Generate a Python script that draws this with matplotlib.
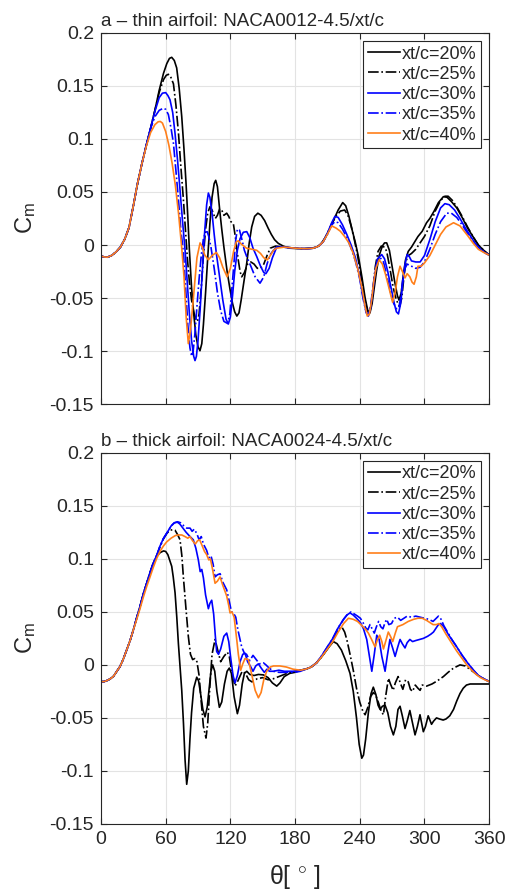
import matplotlib
matplotlib.use("Agg")
import matplotlib.pyplot as plt

plt.rcParams['font.family'] = ['Liberation Sans', 'DejaVu Sans']
plt.rcParams['mathtext.fontset'] = 'custom'
plt.rcParams['mathtext.rm'] = 'Liberation Sans'
plt.rcParams['mathtext.it'] = 'Liberation Sans:italic'

# ---------------- data ----------------
labels = ['xt/c=20%', 'xt/c=25%', 'xt/c=30%', 'xt/c=35%', 'xt/c=40%']
colors = ['#000000', '#000000', '#0000ff', '#0000ff', '#ff7f1a']
styles = ['-', '-.', '-', '-.', '-']
titles = ['a \u2013 thin airfoil: NACA0012-4.5/xt/c',
          'b \u2013 thick airfoil: NACA0024-4.5/xt/c']
xticks = [0, 60, 120, 180, 240, 300, 360]
yticks = [-0.15, -0.1, -0.05, 0, 0.05, 0.1, 0.15, 0.2]
yticklabels = ['-0.15', '-0.1', '-0.05', '0', '0.05', '0.1', '0.15', '0.2']

# panel a, common rising branch
rise_a_t = [0, 3, 6, 10, 14, 18, 22, 26, 30, 34, 38]
rise_a_c = [-0.0104, -0.0113, -0.0115, -0.0098, -0.0065, -0.0020, 0.0055, 0.0165, 0.037, 0.0585, 0.077]

a20_t = [42, 46, 50, 54, 58, 61, 63.5, 65.6, 68, 70.2, 72.5, 74.9, 77, 78.9, 80.5, 82, 84, 86, 88, 90,
         91.8, 93.5, 95, 97, 99, 101, 103, 105, 106.4, 108, 110.4, 112, 114, 117, 119.7, 122, 124, 126, 128, 130,
         132.5, 135.2, 137.5, 139.8, 142.5, 145.5, 148.5, 151.8, 155, 158, 161, 164.5, 169, 175, 185, 195, 200, 204, 208, 212,
         216, 220, 224.2, 227, 230, 233, 236, 239, 242, 245, 247.5, 249.5, 251.5, 253.5, 255.5, 258, 261, 263, 265, 267.5,
         270, 272.5, 275, 276.5, 278.5, 280.5, 282.5, 285, 288, 291, 294, 298, 302, 305, 309, 313, 317.6, 321, 325, 330,
         335, 340, 345, 350, 355, 360]
a20_c = [0.094, 0.110, 0.127, 0.146, 0.162, 0.171, 0.176, 0.177, 0.174, 0.167, 0.148, 0.121, 0.090, 0.058, 0.027, -0.005, -0.040, -0.065, -0.085, -0.096,
         -0.0997, -0.093, -0.075, -0.045, -0.012, 0.020, 0.045, 0.058, 0.061, 0.055, 0.030, 0.015, -0.002, -0.025, -0.042, -0.055, -0.063, -0.067, -0.064, -0.052,
         -0.035, -0.017, 0.002, 0.017, 0.027, 0.030, 0.028, 0.023, 0.016, 0.010, 0.005, 0.0015, -0.001, -0.003, -0.0035, -0.003, -0.002, 0.001, 0.007, 0.015,
         0.024, 0.033, 0.040, 0.037, 0.027, 0.014, 0.002, -0.012, -0.030, -0.050, -0.062, -0.064, -0.055, -0.040, -0.025, -0.010, -0.001, 0.002, 0.002, -0.005,
         -0.020, -0.035, -0.048, -0.052, -0.045, -0.028, -0.014, -0.006, -0.002, 0.003, 0.008, 0.013, 0.021, 0.025, 0.032, 0.040, 0.0456, 0.045, 0.041, 0.035,
         0.026, 0.016, 0.008, 0.0, -0.005, -0.0095]

a25_t = [42, 46, 50, 54, 58, 60.5, 62.5, 64.5, 67.2, 69.5, 71.9, 74, 76.5, 78.5, 80, 82, 84, 86, 88, 89.5,
         91, 93, 95, 97, 99, 101, 103, 106, 108, 110, 112, 114, 116.6, 118.5, 120.5, 122.8, 125, 127, 129, 130.5,
         133, 136, 139, 142, 145, 148, 151, 154, 157, 162, 170, 180, 190, 197, 202, 206, 210, 214, 218, 222,
         226, 229, 232, 235, 238, 241, 244, 246.5, 248.5, 250.5, 252.5, 254.5, 257, 260, 263, 265, 268, 271, 274, 277,
         279, 281, 283, 285, 288, 292, 296, 300, 305, 310, 315, 319, 322, 326, 330, 335, 340, 345, 350, 355,
         360]
a25_c = [0.094, 0.110, 0.127, 0.144, 0.156, 0.160, 0.161, 0.159, 0.152, 0.132, 0.105, 0.075, 0.042, 0.012, -0.011, -0.035, -0.052, -0.063, -0.070, -0.072,
         -0.065, -0.040, -0.010, 0.015, 0.030, 0.036, 0.033, 0.025, 0.028, 0.034, 0.033, 0.028, 0.030, 0.027, 0.022, 0.020, 0.005, -0.012, -0.025, -0.030,
         -0.026, -0.018, -0.016, -0.018, -0.022, -0.022, -0.018, -0.010, -0.003, -0.001, -0.002, -0.003, -0.0035, -0.003, -0.001, 0.003, 0.011, 0.020, 0.027, 0.032,
         0.033, 0.028, 0.018, 0.005, -0.010, -0.028, -0.048, -0.060, -0.065, -0.058, -0.040, -0.020, -0.006, -0.001, -0.002, -0.006, -0.022, -0.040, -0.052, -0.058,
         -0.050, -0.030, -0.015, -0.010, -0.008, -0.004, 0.002, 0.008, 0.018, 0.032, 0.042, 0.046, 0.046, 0.042, 0.036, 0.027, 0.017, 0.008, 0.0, -0.005,
         -0.0095]

a30_t = [42, 46, 50, 54, 57, 60, 62, 64, 66.5, 68.7, 71, 73.3, 75.5, 78, 80, 82, 84, 86, 87.2, 88.5,
         90, 92, 94, 96, 98, 99.6, 101, 103, 105, 107, 110, 113, 116, 118.1, 120, 122, 124, 126.5, 129, 132,
         135.2, 138, 141, 144.5, 148, 151, 153, 156, 159, 163, 170, 180, 190, 197, 202, 206, 210, 214, 217, 220,
         224, 228, 232, 236, 240, 243, 246, 248, 250, 252, 254, 256.5, 260.4, 263, 266, 269, 272, 274, 275.9, 278,
         280, 282, 284, 286, 288, 292, 296, 300, 305, 310, 315, 319, 323, 328, 333, 338, 343, 348, 353, 357,
         360]
a30_c = [0.094, 0.110, 0.126, 0.139, 0.1432, 0.1437, 0.141, 0.137, 0.125, 0.105, 0.080, 0.052, 0.024, -0.005, -0.035, -0.065, -0.090, -0.105, -0.109, -0.105,
         -0.090, -0.060, -0.025, 0.010, 0.038, 0.049, 0.045, 0.030, 0.010, -0.008, -0.030, -0.052, -0.070, -0.0745, -0.068, -0.048, -0.025, -0.005, 0.006, 0.012,
         0.0126, 0.007, -0.003, -0.011, -0.020, -0.026, -0.027, -0.022, -0.012, -0.002, -0.002, -0.003, -0.0035, -0.003, -0.001, 0.003, 0.011, 0.021, 0.027, 0.026,
         0.019, 0.010, 0.0, -0.012, -0.030, -0.048, -0.063, -0.067, -0.060, -0.045, -0.028, -0.013, -0.009, -0.013, -0.025, -0.040, -0.055, -0.063, -0.065, -0.055,
         -0.035, -0.018, -0.009, -0.011, -0.015, -0.016, -0.016, -0.010, 0.005, 0.022, 0.035, 0.039, 0.038, 0.033, 0.025, 0.016, 0.008, 0.0, -0.005, -0.008,
         -0.0095]

a35_t = [42, 46, 50, 54, 57.8, 60, 62.5, 65, 67.2, 69.5, 71.9, 74, 76.5, 78.5, 80.5, 82.5, 84.1, 85.5, 87, 89,
         91, 93, 95, 97, 98.5, 100, 102, 105, 108, 111, 114, 117.4, 119.5, 121.5, 123.5, 125, 126.5, 128.5, 131, 133,
         135.2, 139, 143, 147.5, 151, 154, 157, 160, 163, 168, 180, 190, 197, 202, 206, 210, 214, 217, 220, 224,
         228, 232, 236, 240, 243, 246, 248, 250, 252, 254, 256, 259, 262, 265, 268, 271, 274, 276, 278, 280,
         282, 284, 288, 292, 296, 300, 305, 310, 315, 320.7, 325, 330, 335, 340, 345, 350, 355, 360]
a35_c = [0.094, 0.110, 0.121, 0.127, 0.129, 0.128, 0.123, 0.110, 0.096, 0.070, 0.042, 0.015, -0.008, -0.040, -0.075, -0.097, -0.105, -0.100, -0.085, -0.058,
         -0.032, -0.010, 0.006, 0.012, 0.0126, 0.008, -0.002, -0.022, -0.045, -0.062, -0.072, -0.074, -0.065, -0.040, -0.015, 0.005, 0.015, 0.014, 0.004, -0.005,
         -0.011, -0.020, -0.030, -0.036, -0.030, -0.018, -0.009, -0.005, -0.002, -0.002, -0.003, -0.0035, -0.003, -0.001, 0.003, 0.010, 0.019, 0.022, 0.021, 0.015,
         0.007, -0.003, -0.015, -0.032, -0.050, -0.064, -0.066, -0.058, -0.042, -0.026, -0.016, -0.012, -0.016, -0.028, -0.042, -0.054, -0.060, -0.060, -0.050, -0.032,
         -0.022, -0.018, -0.020, -0.022, -0.021, -0.016, -0.004, 0.010, 0.022, 0.030, 0.030, 0.026, 0.019, 0.011, 0.004, -0.002, -0.006, -0.0095]

a40_t = [42, 46, 50, 53, 55, 57, 60, 63, 66, 69, 72, 75, 77, 79, 81, 83, 85, 87, 89, 91.9,
         94, 96, 99.6, 103, 107, 110, 113, 117, 120, 123, 125.5, 127.4, 130, 135, 140, 144.5, 148, 151, 154.3, 157,
         160, 163, 170, 180, 190, 197, 202, 206, 210, 214, 218, 222, 226, 230, 234, 238, 242, 245, 247, 249,
         251, 253, 255, 258, 261, 264, 267, 270.5, 273, 275, 277.4, 280, 282, 284, 286.5, 288.5, 290.4, 292.5, 294, 297,
         300, 305, 310, 315, 320, 327, 333, 340, 345, 350, 355, 360]
a40_c = [0.093, 0.106, 0.1135, 0.1162, 0.1165, 0.115, 0.107, 0.094, 0.077, 0.056, 0.029, -0.004, -0.030, -0.068, -0.093, -0.080, -0.058, -0.035, -0.012, 0.002,
         -0.002, -0.009, -0.014, -0.010, -0.007, -0.012, -0.021, -0.030, -0.022, -0.006, 0.003, 0.004, 0.001, -0.003, -0.004, -0.005, -0.008, -0.012, -0.014, -0.010,
         -0.005, -0.003, -0.002, -0.003, -0.0035, -0.003, -0.001, 0.003, 0.010, 0.018, 0.016, 0.013, 0.008, 0.002, -0.008, -0.022, -0.040, -0.058, -0.067, -0.065,
         -0.052, -0.035, -0.022, -0.014, -0.018, -0.028, -0.040, -0.054, -0.044, -0.030, -0.020, -0.026, -0.031, -0.027, -0.030, -0.035, -0.037, -0.030, -0.020, -0.020,
         -0.017, -0.010, 0.000, 0.010, 0.017, 0.021, 0.018, 0.009, 0.002, -0.004, -0.007, -0.0095]

# panel b, common rising branch
rise_b_t = [0, 2.5, 5, 8, 11.4, 14, 17.6, 20.5, 23.8, 27, 30]
rise_b_c = [-0.0157, -0.0158, -0.015, -0.0135, -0.011, -0.007, -0.0016, 0.005, 0.014, 0.023, 0.033]
rise_b2_t = [33, 36.2, 39, 42.4, 45.5, 48.5]
rise_b2_c = [0.044, 0.055, 0.066, 0.077, 0.087, 0.096]

b20_t = [52, 55, 58, 60, 62, 64, 65.6, 67, 68.7, 70.3, 71.8, 73.3, 74.9, 76.5, 78, 79.5, 81, 82.5, 84, 86,
         88.8, 90.5, 92.5, 94.5, 96.5, 98.5, 100.5, 102, 103.6, 105.5, 107.5, 109.8, 112, 114.5, 117, 119, 121, 123.5, 126.5, 128.5,
         131, 133, 135.2, 138, 142, 146, 150.6, 155, 159, 163, 166, 170, 175, 180, 185, 190, 195, 200, 205, 210,
         215.5, 219, 223, 227, 231, 234, 237, 239.5, 241.9, 243.5, 245.5, 248, 250.5, 252.6, 255, 257, 258.9, 261, 263.5, 266,
         268.5, 271.2, 273.5, 275.5, 277.4, 279.5, 282, 284, 286.5, 289, 291.3, 293.5, 295.9, 297.5, 299, 301, 303.5, 305, 306.6, 308.5,
         311.2, 314, 317.4, 320, 323.5, 327, 330, 333, 336, 339, 342.4, 350, 360]
b20_c = [0.103, 0.106, 0.1075, 0.107, 0.104, 0.098, 0.093, 0.083, 0.068, 0.045, 0.020, -0.002, -0.024, -0.055, -0.090, -0.1126, -0.100, -0.070, -0.045, -0.022,
         -0.0116, -0.015, -0.028, -0.042, -0.049, -0.040, -0.020, -0.006, 0.0, -0.006, -0.025, -0.040, -0.035, -0.018, -0.006, -0.003, -0.008, -0.030, -0.046, -0.038,
         -0.018, -0.008, -0.006, -0.009, -0.010, -0.009, -0.0094, -0.012, -0.017, -0.020, -0.017, -0.011, -0.008, -0.007, -0.005, -0.004, -0.002, 0.002, 0.008, 0.015,
         0.022, 0.020, 0.014, 0.004, -0.008, -0.025, -0.050, -0.075, -0.088, -0.085, -0.070, -0.045, -0.027, -0.021, -0.028, -0.038, -0.042, -0.039, -0.038, -0.045,
         -0.058, -0.066, -0.058, -0.042, -0.039, -0.048, -0.060, -0.053, -0.043, -0.055, -0.066, -0.058, -0.047, -0.055, -0.063, -0.058, -0.048, -0.052, -0.056, -0.053,
         -0.050, -0.051, -0.052, -0.051, -0.048, -0.042, -0.034, -0.027, -0.022, -0.019, -0.018, -0.018, -0.018]

b25_t = [52, 55, 58, 61, 64, 66.5, 68.7, 71, 73.3, 75, 76.4, 77.7, 78.9, 81, 83, 85, 87, 89, 91, 93,
         95, 97.4, 99, 101, 103, 105.8, 108, 111, 114, 117.2, 119, 121, 124.3, 127, 131, 134, 137, 140, 145, 150,
         155, 160, 165, 170, 175, 180, 185, 190, 195, 200, 205, 210, 215, 218, 221, 223.3, 226, 228, 231, 234,
         237, 240, 243, 245, 247.5, 250, 252.6, 255, 257.5, 260, 262, 264, 266.6, 268.5, 271, 273, 275.6, 278, 280, 282.5,
         285, 287, 289, 291.5, 294, 296, 298, 302, 307, 312, 317.6, 322, 327, 333, 338, 342, 346, 350, 355, 360]
b25_c = [0.104, 0.112, 0.119, 0.124, 0.127, 0.1275, 0.127, 0.123, 0.118, 0.103, 0.083, 0.067, 0.052, 0.027, 0.010, 0.005, 0.006, 0.003, -0.010, -0.035,
         -0.058, -0.069, -0.055, -0.020, 0.010, 0.024, 0.015, 0.003, 0.008, 0.012, 0.008, -0.005, -0.020, -0.015, -0.006, -0.008, -0.014, -0.016, -0.013, -0.012,
         -0.014, -0.013, -0.011, -0.009, -0.007, -0.006, -0.005, -0.004, -0.002, 0.002, 0.008, 0.015, 0.023, 0.030, 0.034, 0.036, 0.031, 0.024, 0.010, -0.005,
         -0.022, -0.035, -0.044, -0.047, -0.040, -0.030, -0.026, -0.029, -0.036, -0.044, -0.047, -0.030, -0.0126, -0.018, -0.024, -0.017, -0.011, -0.018, -0.023, -0.014,
         -0.016, -0.023, -0.025, -0.019, -0.022, -0.024, -0.019, -0.020, -0.018, -0.015, -0.011, -0.007, -0.003, 0.0, -0.001, -0.004, -0.007, -0.010, -0.013, -0.0157]

b30_t = [52, 54.7, 57.8, 60.9, 65, 68, 70.8, 73, 76, 79, 82.6, 85.6, 88, 90.3, 92, 93.5, 95, 97, 99.6, 101,
         102.7, 104.5, 106, 107.3, 109, 111, 114, 116.6, 118.5, 120.5, 122.5, 124.3, 126.5, 129, 131.5, 133.6, 136, 139, 141, 143.5,
         146, 148.6, 151.5, 154, 156.3, 160, 165, 170, 175, 180, 185, 190, 195, 200, 205, 210, 215, 220, 225, 228,
         231, 234, 237, 240.6, 243.5, 246.5, 249, 251.2, 253.5, 255.8, 258, 260.5, 263.5, 265.5, 268, 270.5, 272.8, 275, 277.4, 279.5,
         282, 284, 286.5, 289, 292, 295.5, 299, 303, 306, 308.4, 311, 313, 315, 318, 322, 326, 330, 335, 340, 345.5,
         350, 355, 360]
b30_c = [0.104, 0.112, 0.119, 0.124, 0.131, 0.134, 0.1346, 0.133, 0.129, 0.125, 0.121, 0.118, 0.110, 0.099, 0.088, 0.090, 0.082, 0.066, 0.053, 0.058,
         0.061, 0.048, 0.028, 0.0126, 0.010, 0.015, 0.027, 0.030, 0.022, 0.005, -0.010, -0.017, -0.010, 0.003, 0.010, 0.011, 0.003, -0.002, -0.006, -0.001,
         0.001, -0.003, -0.007, -0.004, -0.006, -0.006, -0.005, -0.006, -0.006, -0.006, -0.005, -0.004, -0.002, 0.002, 0.009, 0.017, 0.025, 0.035, 0.043, 0.047,
         0.049, 0.047, 0.044, 0.040, 0.034, 0.024, 0.008, -0.006, 0.010, 0.028, 0.024, 0.008, -0.006, 0.008, 0.024, 0.016, 0.008, 0.016, 0.024, 0.020,
         0.016, 0.021, 0.024, 0.022, 0.023, 0.024, 0.025, 0.027, 0.029, 0.031, 0.035, 0.038, 0.039, 0.036, 0.029, 0.023, 0.017, 0.009, 0.002, -0.005,
         -0.010, -0.013, -0.0157]

b35_t = [52, 54.7, 57.8, 60.9, 65, 68, 71, 74, 77, 79.5, 82.6, 84.5, 86.5, 88.8, 91, 93, 95, 98, 100, 102,
         104, 105.8, 108, 110.5, 113, 116.6, 119, 121, 122.8, 125, 127, 130.5, 133, 135, 138, 141, 144, 147, 150.6, 153,
         156, 160, 165, 170, 175, 180, 185, 190, 195, 200, 205, 210, 215, 220, 225, 229, 232, 235, 238, 240.6,
         243, 245.5, 247.5, 249.5, 251.5, 253.5, 255.5, 257.5, 259.5, 261.5, 263.5, 265, 267, 269.5, 272, 275, 278, 281, 284, 288,
         292, 296, 300, 304, 308, 311, 313, 315.5, 318, 322, 326, 330, 335, 340, 345.5, 350, 355, 360]
b35_c = [0.104, 0.112, 0.119, 0.124, 0.131, 0.134, 0.135, 0.134, 0.131, 0.129, 0.129, 0.126, 0.128, 0.124, 0.118, 0.121, 0.114, 0.108, 0.101, 0.103,
         0.095, 0.083, 0.085, 0.086, 0.078, 0.0708, 0.060, 0.050, 0.049, 0.045, 0.033, 0.017, 0.011, 0.010, 0.004, 0.009, 0.005, 0.001, 0.002, 0.000,
         -0.003, -0.006, -0.007, -0.007, -0.007, -0.007, -0.006, -0.004, -0.002, 0.002, 0.009, 0.017, 0.025, 0.035, 0.043, 0.048, 0.050, 0.048, 0.046, 0.044,
         0.040, 0.035, 0.033, 0.038, 0.034, 0.030, 0.036, 0.041, 0.036, 0.034, 0.040, 0.043, 0.038, 0.039, 0.044, 0.045, 0.042, 0.044, 0.046, 0.045,
         0.046, 0.045, 0.044, 0.043, 0.041, 0.044, 0.046, 0.043, 0.037, 0.030, 0.023, 0.017, 0.009, 0.002, -0.005, -0.010, -0.013, -0.0157]

b40_t = [33, 36.2, 39, 42.4, 45.5, 48.5, 51.5, 54.7, 57.8, 60.9, 65, 69, 72, 75, 78, 80.5, 82.6, 85, 87.5, 89.5,
         91.5, 94, 96, 98, 100, 101.5, 103.5, 105.8, 108, 110.4, 113, 116.6, 118.5, 119.7, 121.5, 123.5, 125.9, 127.4, 129.6, 131.5,
         133.6, 136.7, 140, 143, 146, 148.5, 151, 153.7, 157, 160, 166, 172, 178, 185, 190, 195, 200, 205, 210, 215,
         220, 225, 229.5, 234, 238, 242, 245, 248, 251, 254.2, 256.5, 258.5, 260.5, 262, 264, 266.5, 268.5, 270.6, 273, 275,
         280, 285, 290, 294, 298, 302, 305, 308, 311, 313.5, 316, 320, 325, 330, 335, 340, 344, 348, 352, 356,
         360]
b40_c = [0.0425, 0.053, 0.063, 0.074, 0.083, 0.092, 0.100, 0.107, 0.112, 0.116, 0.1195, 0.122, 0.1226, 0.1225, 0.121, 0.1195, 0.121, 0.117, 0.114, 0.117,
         0.118, 0.112, 0.107, 0.104, 0.099, 0.100, 0.090, 0.077, 0.079, 0.083, 0.075, 0.065, 0.056, 0.049, 0.050, 0.045, 0.024, 0.010, -0.005, 0.001,
         0.006, 0.005, -0.010, -0.024, -0.031, -0.026, -0.014, -0.006, -0.002, -0.001, -0.001, -0.002, -0.004, -0.005, -0.004, -0.002, 0.002, 0.008, 0.015, 0.022,
         0.031, 0.039, 0.044, 0.043, 0.041, 0.037, 0.034, 0.030, 0.024, 0.017, 0.024, 0.028, 0.022, 0.015, 0.022, 0.031, 0.027, 0.022, 0.030, 0.036,
         0.038, 0.041, 0.043, 0.044, 0.044, 0.042, 0.040, 0.038, 0.038, 0.039, 0.036, 0.029, 0.021, 0.013, 0.006, -0.001, -0.005, -0.009, -0.012, -0.014,
         -0.0157]

panel_a = [(rise_a_t + a20_t, rise_a_c + a20_c),
           (rise_a_t + a25_t, rise_a_c + a25_c),
           (rise_a_t + a30_t, rise_a_c + a30_c),
           (rise_a_t + a35_t, rise_a_c + a35_c),
           (rise_a_t + a40_t, rise_a_c + a40_c)]
panel_b = [(rise_b_t + rise_b2_t + b20_t, rise_b_c + rise_b2_c + b20_c),
           (rise_b_t + rise_b2_t + b25_t, rise_b_c + rise_b2_c + b25_c),
           (rise_b_t + rise_b2_t + b30_t, rise_b_c + rise_b2_c + b30_c),
           (rise_b_t + rise_b2_t + b35_t, rise_b_c + rise_b2_c + b35_c),
           (rise_b_t + b40_t, rise_b_c + b40_c)]

for name, (t, c) in zip(['a20', 'a25', 'a30', 'a35', 'a40', 'b20', 'b25', 'b30', 'b35', 'b40'], panel_a + panel_b):
    assert len(t) == len(c), (name, len(t), len(c))

# ---------------- figure ----------------
fig = plt.figure(figsize=(5.06, 8.90), dpi=100)
ax1 = fig.add_axes([0.1996, 0.546, 0.767, 0.417])
ax2 = fig.add_axes([0.1996, 0.0742, 0.767, 0.417])

spine_col = '#262626'
for ax, data, title in [(ax1, panel_a, titles[0]), (ax2, panel_b, titles[1])]:
    for (t, c), lab, col, ls in zip(data, labels, colors, styles):
        ax.plot(t, c, color=col, ls=ls, lw=1.2, label=lab)
    ax.set_xlim(0, 360)
    ax.set_ylim(-0.15, 0.2)
    ax.set_xticks(xticks)
    ax.set_yticks(yticks)
    ax.set_yticklabels(yticklabels)
    ax.grid(True, color='#e3e3e3', lw=0.8)
    ax.set_axisbelow(True)
    ax.tick_params(direction='in', top=True, right=True, length=4, width=0.8,
                   colors=spine_col, labelsize=14, pad=5, labelcolor='#262626')
    for sp in ax.spines.values():
        sp.set_color(spine_col)
        sp.set_linewidth(0.8)
    ax.set_title(title, loc='left', fontsize=13.5, pad=5, color='#262626')
    ax.set_ylabel('C$_{\\mathrm{m}}$', fontsize=17, labelpad=8, color='#262626')
    leg = ax.legend(loc='upper right', fontsize=13, fancybox=False, framealpha=1,
                    edgecolor=spine_col, borderpad=0.25, labelspacing=0.18,
                    handlelength=1.8, handletextpad=0.1, borderaxespad=0.45)
    leg.get_frame().set_linewidth(0.8)
    for txt in leg.get_texts():
        txt.set_color('#262626')

ax1.tick_params(labelbottom=False)
ax2.set_xlabel('\u03b8[ $^{\\circ}$ ]', fontsize=18, labelpad=11, color='#262626')

fig.savefig('out.png', dpi=100)
